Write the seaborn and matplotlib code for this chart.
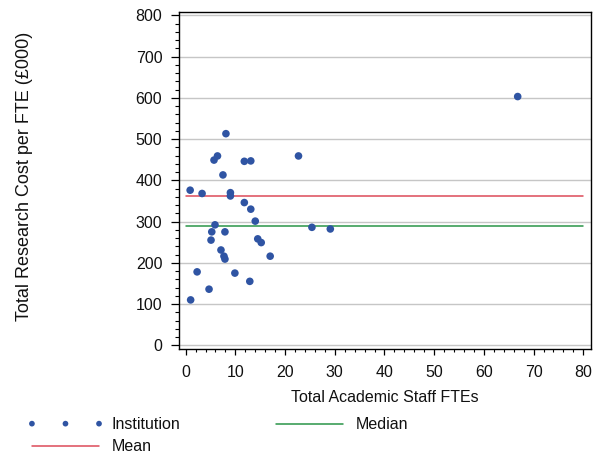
import matplotlib
matplotlib.use("Agg")
import matplotlib.pyplot as plt
from matplotlib.ticker import MultipleLocator
import numpy as np
import pandas as pd
import seaborn as sns

# ---- data ----
staff_fte = [6.4, 5.7, 11.8, 13.1, 22.7, 7.5, 0.9, 3.3, 9.0, 9.0, 11.8, 13.1,
             14.0, 5.9, 5.25, 7.9, 5.1, 14.5, 15.2, 25.4, 29.1, 7.1, 7.7, 7.9,
             17.0, 2.3, 9.9, 4.7, 12.9, 1.0, 66.8, 8.1]
cost_per_fte = [459, 449, 446, 447, 459, 413, 376, 368, 370, 362, 346, 330,
                301, 292, 275, 275, 255, 258, 249, 286, 282, 231, 216, 209,
                216, 178, 175, 136, 155, 110, 603, 513]
line_x = [0, 80]
mean_cost = 363
median_cost = 288
x_ticks = [0, 10, 20, 30, 40, 50, 60, 70, 80]
y_ticks = [0, 100, 200, 300, 400, 500, 600, 700, 800]

x_label = "Total Academic Staff FTEs"
y_label = "Total Research Cost per FTE (£000)"

sns.set_theme(style="white")
plt.rcParams["font.family"] = ["Liberation Sans", "DejaVu Sans"]

fig = plt.figure(figsize=(6.03, 4.57), dpi=100)
ax = fig.add_axes([0.2963, 0.2357, 0.6838, 0.7387])

pts = pd.DataFrame({"x": staff_fte, "y": cost_per_fte})
mean_df = pd.DataFrame({"x": line_x, "y": [mean_cost] * len(line_x)})
median_df = pd.DataFrame({"x": line_x, "y": [median_cost] * len(line_x)})

sns.scatterplot(data=pts, x="x", y="y", ax=ax, color="#2f54a3", s=30,
                edgecolor="none", label="Institution", zorder=4)
sns.lineplot(data=mean_df, x="x", y="y", ax=ax, color="#dc4a58", lw=1.1,
             label="Mean", zorder=3)
sns.lineplot(data=median_df, x="x", y="y", ax=ax, color="#2a9448", lw=1.1,
             label="Median", zorder=3)

ax.set_xlim(-1.41, 81.55)
ax.set_ylim(-9.7, 808.7)
ax.set_xticks(x_ticks)
ax.set_yticks(y_ticks)
ax.xaxis.set_minor_locator(MultipleLocator(2))
ax.yaxis.set_minor_locator(MultipleLocator(20))

ax.yaxis.grid(True, which="major", color="#c6c6c6", lw=1)
ax.xaxis.grid(False)
ax.set_axisbelow(True)

for sp in ax.spines.values():
    sp.set_visible(True)
    sp.set_color("black")
    sp.set_linewidth(1)

ax.tick_params(axis="y", which="major", left=True, direction="out", length=5.8,
               width=0.9, color="black", labelsize=11.5, labelcolor="#111111", pad=6)
ax.tick_params(axis="y", which="minor", left=True, direction="out", length=2.9,
               width=0.8, color="black")
ax.tick_params(axis="x", which="major", bottom=True, direction="out", length=4,
               width=0.9, color="black", labelsize=11.5, labelcolor="#111111", pad=7)
ax.tick_params(axis="x", which="minor", bottom=True, direction="out", length=2.2,
               width=0.8, color="black")

ax.set_xlabel(x_label, fontsize=11.5, color="#111111")
ax.set_ylabel(y_label, fontsize=13, color="#111111")
ax.xaxis.set_label_coords(0.5, -0.12)
ax.yaxis.set_label_coords(-0.354, 0.513)
ax.yaxis.label.set_va("bottom")

handles, labels = ax.get_legend_handles_labels()
leg = ax.legend(handles, labels, ncol=2, frameon=False, fontsize=11.5,
                loc="upper left", bbox_to_anchor=(0.045, 0.087),
                bbox_transform=fig.transFigure, scatterpoints=3, numpoints=3,
                scatteryoffsets=[0.5], markerscale=0.75,
                handlelength=4.8, handletextpad=0.5, columnspacing=5.7,
                labelspacing=0.45, borderpad=0.0, borderaxespad=0.0)
for t in leg.get_texts():
    t.set_color("#111111")

fig.savefig("out.png", dpi=100)
